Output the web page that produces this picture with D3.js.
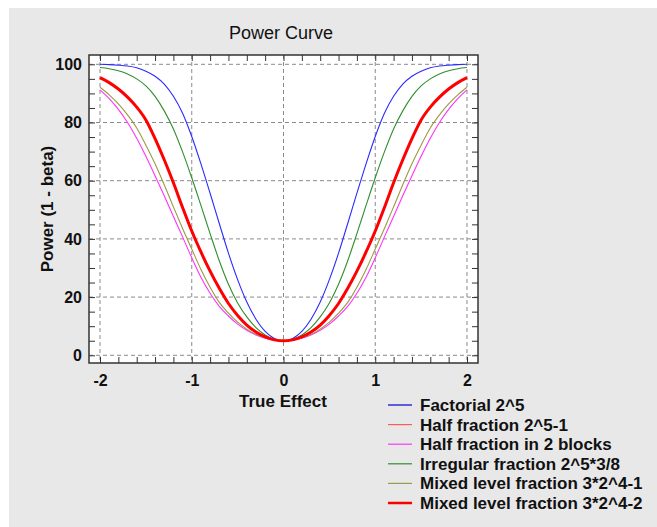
<!DOCTYPE html>
<meta charset="utf-8">
<style>
body { margin: 0; background: #fff; }
text { font-family: "Liberation Sans", Arial, sans-serif; font-weight: bold; fill: #111; }
</style>
<svg width="657" height="527"></svg>
<script src="https://d3js.org/d3.v7.min.js"></script>
<script>

// true effect values (x)
var effect = [-2.0,-1.9,-1.8,-1.7,-1.6,-1.5,-1.4,-1.3,-1.2,-1.1,-1.0,-0.9,-0.8,-0.7,-0.6,-0.5,-0.4,-0.3,-0.2,-0.1,
              0.0,0.1,0.2,0.3,0.4,0.5,0.6,0.7,0.8,0.9,1.0,1.1,1.2,1.3,1.4,1.5,1.6,1.7,1.8,1.9,2.0];

// power (1 - beta), percent
var factorial = [100.0,99.9,99.7,99.4,98.8,97.6,95.9,93.2,89.0,83.2,75.2,65.8,55.7,45.3,35.1,26.0,18.3,12.4,8.2,5.8,
                 5.0,5.8,8.2,12.4,18.3,26.0,35.1,45.3,55.7,65.8,75.2,83.2,89.0,93.2,95.9,97.6,98.8,99.4,99.7,99.9,100.0];
var halfFraction = [95.4,93.7,91.5,88.7,85.3,80.9,74.5,67.2,59.3,50.8,42.7,35.5,28.9,23.0,17.8,13.7,10.4,8.0,6.3,5.3,
                    5.0,5.3,6.3,8.0,10.4,13.7,17.8,23.0,28.9,35.5,42.7,50.8,59.3,67.2,74.5,80.9,85.3,88.7,91.5,93.7,95.4];
var halfBlocks = [91.2,88.2,84.5,80.0,74.6,68.4,61.7,54.8,47.7,40.7,33.5,26.8,21.3,16.8,13.5,10.7,8.6,7.0,5.9,5.2,
                  5.0,5.2,5.9,7.0,8.6,10.7,13.5,16.8,21.3,26.8,33.5,40.7,47.7,54.8,61.7,68.4,74.6,80.0,84.5,88.2,91.2];
var irregular = [98.9,98.5,97.8,96.7,95.0,92.6,89.0,84.0,77.8,69.9,61.0,51.5,41.8,32.5,24.4,18.0,13.2,9.5,7.0,5.5,
                 5.0,5.5,7.0,9.5,13.2,18.0,24.4,32.5,41.8,51.5,61.0,69.9,77.8,84.0,89.0,92.6,95.0,96.7,97.8,98.5,98.9];
var mixed1 = [92.1,89.5,86.4,82.6,78.1,72.2,65.8,58.6,51.0,43.6,36.5,29.5,23.4,18.2,14.5,11.4,9.0,7.2,6.0,5.2,
              5.0,5.2,6.0,7.2,9.0,11.4,14.5,18.2,23.4,29.5,36.5,43.6,51.0,58.6,65.8,72.2,78.1,82.6,86.4,89.5,92.1];
var mixed2 = [95.4,93.7,91.5,88.7,85.3,80.9,74.5,67.2,59.3,50.8,42.7,35.5,28.9,23.0,17.8,13.7,10.4,8.0,6.3,5.3,
              5.0,5.3,6.3,8.0,10.4,13.7,17.8,23.0,28.9,35.5,42.7,50.8,59.3,67.2,74.5,80.9,85.3,88.7,91.5,93.7,95.4];

var seriesNames = ["Factorial 2^5", "Half fraction 2^5-1", "Half fraction in 2 blocks",
                   "Irregular fraction 2^5*3/8", "Mixed level fraction 3*2^4-1", "Mixed level fraction 3*2^4-2"];
var xTicks = [-2, -1, 0, 1, 2];
var yTicks = [0, 20, 40, 60, 80, 100];

var series = [
  {name: seriesNames[0], values: factorial,    color: "#2a2aff", legend: "#0000cc", width: 1.1},
  {name: seriesNames[1], values: halfFraction, color: "#ff5a5a", legend: "#ff5a5a", width: 1.1},
  {name: seriesNames[2], values: halfBlocks,   color: "#ff33ff", legend: "#ff33ff", width: 1.1},
  {name: seriesNames[3], values: irregular,    color: "#2f8f2f", legend: "#2f8f2f", width: 1.1},
  {name: seriesNames[4], values: mixed1,       color: "#9a9a40", legend: "#9a9a50", width: 1.1},
  {name: seriesNames[5], values: mixed2,       color: "#ff0000", legend: "#ff0000", width: 3}
];

var svg = d3.select("svg"),
    pL = 89, pT = 55, pR = 478, pB = 363;

svg.append("rect").attr("x", 9).attr("y", 8).attr("width", 648).attr("height", 519).attr("fill", "#e8e8e8");

var x = d3.scaleLinear().domain([-2.12, 2.12]).range([pL, pR]);
var y = d3.scaleLinear().domain([-2.65, 103.2]).range([pB, pT]);

svg.append("rect")
    .attr("x", pL).attr("y", pT)
    .attr("width", pR - pL).attr("height", pB - pT)
    .attr("fill", "#fff");

// dashed grid
var grid = svg.append("g").attr("stroke", "#8a8a8a").attr("stroke-dasharray", "4,3");
grid.selectAll(".gx").data(xTicks).enter().append("line")
    .attr("x1", function(d) { return x(d); }).attr("x2", function(d) { return x(d); })
    .attr("y1", pT).attr("y2", pB);
grid.selectAll(".gy").data(yTicks).enter().append("line")
    .attr("y1", function(d) { return y(d); }).attr("y2", function(d) { return y(d); })
    .attr("x1", pL).attr("x2", pR);

// curves
var line = d3.line()
    .x(function(d, i) { return x(effect[i]); })
    .y(function(d) { return y(d); })
    .curve(d3.curveMonotoneX);

svg.append("g").attr("fill", "none").attr("stroke-linejoin", "round")
  .selectAll("path").data(series).enter().append("path")
    .attr("stroke", function(d) { return d.color; })
    .attr("stroke-width", function(d) { return d.width; })
    .attr("d", function(d) { return line(d.values); });

// axes: inward minor ticks on all four sides
var xMinor = d3.range(-20, 21, 2).map(function(v) { return v / 10; });
var yMinor = d3.range(0, 101, 5);
var fmtX = function(d) { return Number.isInteger(d) ? d : ""; };
var fmtY = function(d) { return d % 20 === 0 ? d : ""; };

var gB = svg.append("g").attr("transform", "translate(0," + pB + ")")
    .call(d3.axisBottom(x).tickValues(xMinor).tickSize(-6).tickPadding(12).tickFormat(fmtX));
var gT = svg.append("g").attr("transform", "translate(0," + pT + ")")
    .call(d3.axisTop(x).tickValues(xMinor).tickSize(-6).tickFormat(""));
var gL = svg.append("g").attr("transform", "translate(" + pL + ",0)")
    .call(d3.axisLeft(y).tickValues(yMinor).tickSize(-6).tickPadding(7).tickFormat(fmtY));
var gR = svg.append("g").attr("transform", "translate(" + pR + ",0)")
    .call(d3.axisRight(y).tickValues(yMinor).tickSize(-6).tickFormat(""));

[gB, gT, gL, gR].forEach(function(g) {
  g.select(".domain").remove();
  g.selectAll(".tick line").attr("stroke", "#333");
  g.selectAll("text").attr("font-size", 16).attr("font-family", null).attr("fill", "#111");
});

svg.append("rect")
    .attr("x", pL).attr("y", pT)
    .attr("width", pR - pL).attr("height", pB - pT)
    .attr("fill", "none").attr("stroke", "#333").attr("stroke-width", 1.5);

// titles
svg.append("text").attr("x", 281).attr("y", 39).attr("text-anchor", "middle")
    .attr("font-size", 18).style("font-weight", "normal").text("Power Curve");
svg.append("text").attr("x", 283).attr("y", 407).attr("text-anchor", "middle")
    .attr("font-size", 17).text("True Effect");
svg.append("text").attr("transform", "translate(53,209) rotate(-90)").attr("text-anchor", "middle")
    .attr("font-size", 17).text("Power (1 - beta)");

// legend
var leg = svg.append("g").selectAll("g").data(series).enter().append("g")
    .attr("transform", function(d, i) { return "translate(0," + (411 + i * 19.6) + ")"; });
leg.append("line").attr("x1", 388).attr("x2", 412).attr("y1", -6).attr("y2", -6)
    .attr("stroke", function(d) { return d.legend; })
    .attr("stroke-width", function(d) { return d.width === 3 ? 2.5 : 1.2; });
leg.append("text").attr("x", 420).attr("font-size", 17).text(function(d) { return d.name; });

</script>
